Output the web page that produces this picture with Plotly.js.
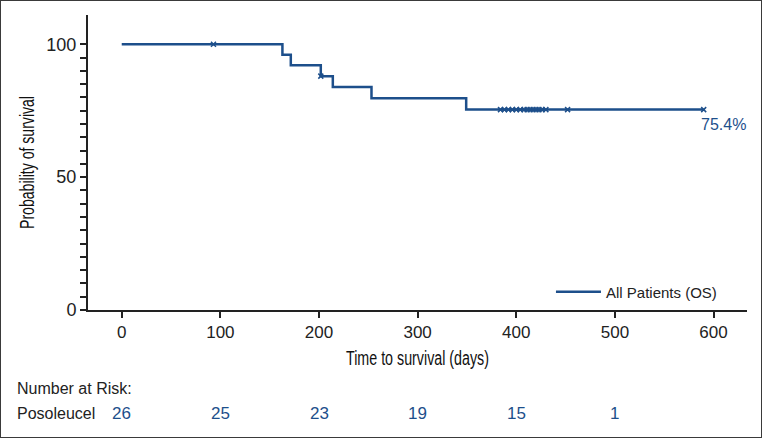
<!DOCTYPE html>
<html>
<head>
<meta charset="utf-8">
<script src="https://cdn.plot.ly/plotly-3.0.1.min.js"></script>
<style>
  html, body { margin: 0; padding: 0; background: #fff; }
  #wrap { position: relative; width: 762px; height: 438px; }
  #chart { width: 762px; height: 438px; }
  #frame { position: absolute; left: 0; top: 0; width: 762px; height: 438px;
           box-sizing: border-box; border: 1.5px solid #3a3a3a; pointer-events: none; }
</style>
</head>
<body>
<div id="wrap"><div id="chart"></div><div id="frame"></div></div>
<script>
// ---- data ----
const stepTimes = [0, 162.9, 171.4, 201.8, 214, 253.2, 349.2, 590];
const stepSurv  = [100, 96.0, 92.1, 88.0, 83.9, 79.7, 75.4, 75.4];
const censorTimes = [93, 201.8, 384, 388, 392, 396, 400, 404, 408, 411, 414, 417, 420, 423, 426, 430, 452, 590];
const seriesName = "All Patients (OS)";
const finalLabel = "75.4%";
const riskTimes = [0, 100, 200, 300, 400, 500];
const riskCounts = [26, 25, 23, 19, 15, 1];
const riskGroup = "Posoleucel";
const riskHeader = "Number at Risk:";
const xTicks = [0, 100, 200, 300, 400, 500, 600];
const yTickLabels = [0, 50, 100];

// survival value at time t from the step curve
function survAt(t) {
  let v = stepSurv[0];
  for (let i = 0; i < stepTimes.length; i++) { if (stepTimes[i] <= t + 1e-9) v = stepSurv[i]; }
  return v;
}
const censorSurv = censorTimes.map(survAt);

const blue = "#1d4f8b";
const axisCol = "#222222";
const sans = "Liberation Sans, Arial, Helvetica, sans-serif";

const yTickVals = [];
for (let v = 0; v <= 100; v += 5) yTickVals.push(v);
const yTickText = yTickVals.map(v => yTickLabels.includes(v) ? String(v) : "");

const traces = [
  { x: stepTimes, y: stepSurv, type: "scatter", mode: "lines", name: seriesName,
    line: { shape: "hv", color: blue, width: 2.5 }, showlegend: true },
  { x: censorTimes, y: censorSurv, type: "scatter", mode: "markers", name: "censored",
    marker: { symbol: "x-thin", size: 5, color: blue, line: { color: blue, width: 1.5 } },
    showlegend: false }
];

const L = 88, R = 15, T = 15, B = 128, W = 762, H = 438;
const pw = W - L - R, ph = H - T - B;
const px = x => (x - L) / pw;
const py = y => (H - B - y) / ph;

const annotations = [
  { x: 585, y: survAt(590), xref: "x", yref: "y", text: finalLabel, showarrow: false,
    xanchor: "left", yanchor: "top", yshift: -4, font: { family: sans, size: 16, color: blue } },
  { x: px(15), y: py(388), xref: "paper", yref: "paper", text: riskHeader, showarrow: false,
    xanchor: "left", yanchor: "middle", font: { family: sans, size: 16, color: "#222" } },
  { x: px(15), y: py(413), xref: "paper", yref: "paper", text: riskGroup, showarrow: false,
    xanchor: "left", yanchor: "middle", font: { family: sans, size: 16, color: "#222" } }
];
riskTimes.forEach((t, i) => {
  annotations.push({ x: t, y: py(413), xref: "x", yref: "paper", text: String(riskCounts[i]),
    showarrow: false, xanchor: "center", yanchor: "middle", font: { family: sans, size: 17, color: blue } });
});

const layout = {
  width: W, height: H,
  margin: { l: L, r: R, t: T, b: B, pad: 0 },
  paper_bgcolor: "#fff", plot_bgcolor: "#fff",
  showlegend: true,
  legend: { x: 0.962, y: 0.061, xanchor: "right", yanchor: "middle", bgcolor: "rgba(0,0,0,0)",
            itemwidth: 45, font: { family: sans, size: 15, color: "#222" } },
  xaxis: {
    range: [-34.2, 633.9], showgrid: false, zeroline: false,
    showline: true, linecolor: axisCol, linewidth: 2,
    ticks: "outside", ticklen: 6, tickwidth: 2, tickcolor: axisCol,
    tickvals: xTicks, ticktext: xTicks.map(String),
    tickfont: { family: sans, size: 17, color: "#222" },
    title: { text: "Time to survival (days)", font: { family: sans, size: 20, color: "#111" }, standoff: 10 }
  },
  yaxis: {
    range: [0, 111], showgrid: false, zeroline: false,
    showline: true, linecolor: axisCol, linewidth: 2,
    ticks: "outside", ticklen: 6, tickwidth: 2, tickcolor: axisCol,
    tickvals: yTickVals, ticktext: yTickText, ticklabelstandoff: 0,
    tickfont: { family: sans, size: 18, color: "#222" },
    title: { text: "Probability of survival", font: { family: sans, size: 20, color: "#111" }, standoff: 6 }
  },
  annotations: annotations
};

Plotly.newPlot("chart", traces, layout, { displayModeBar: false, staticPlot: true }).then(gd => {
  // the reference uses a condensed face for the axis titles: squeeze the real text glyphs
  const xt = gd.querySelector(".xtitle");
  if (xt) { xt.setAttribute("textLength", "143"); xt.setAttribute("lengthAdjust", "spacingAndGlyphs"); }
  const yt = gd.querySelector(".ytitle");
  if (yt) { yt.setAttribute("textLength", "133"); yt.setAttribute("lengthAdjust", "spacingAndGlyphs"); }
});
</script>
</body>
</html>
